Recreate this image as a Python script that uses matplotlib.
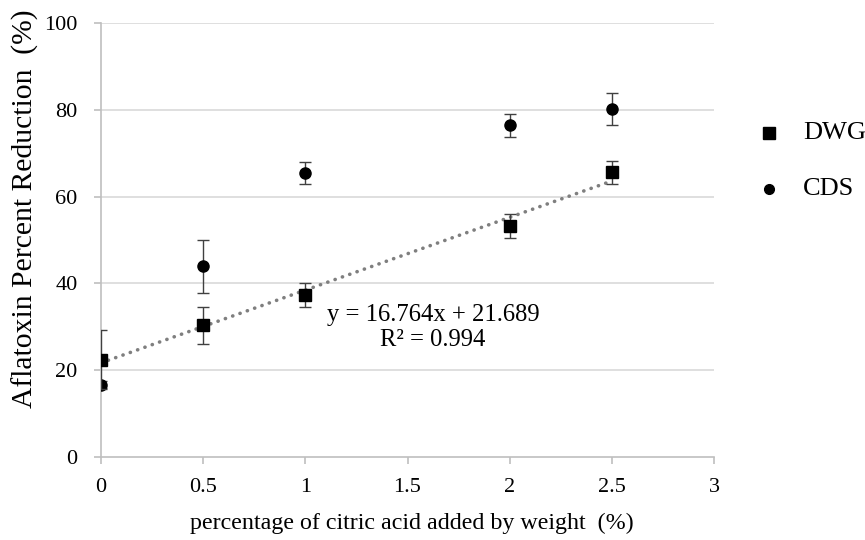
import matplotlib
matplotlib.use("Agg")
import matplotlib.pyplot as plt
from matplotlib.lines import Line2D

plt.rcParams['font.family'] = ['Liberation Serif', 'DejaVu Serif']

# Citric acid added (% by weight)
x_vals = [0, 0.5, 1, 2, 2.5]

# DWG: aflatoxin reduction (%) and error
dwg_mean = [22.4, 30.3, 37.4, 53.3, 65.6]
dwg_err = [6.8, 4.2, 2.8, 2.8, 2.7]

# CDS: aflatoxin reduction (%) and error
cds_mean = [16.6, 43.9, 65.4, 76.4, 80.1]
cds_err = [0.8, 6.2, 2.5, 2.6, 3.7]

# Linear trend for DWG
slope = 16.764
intercept = 21.689
r_squared = 0.994

series_names = ['DWG', 'CDS']
x_ticks = [0, 0.5, 1, 1.5, 2, 2.5, 3]
x_tick_labels = ['0', '0.5', '1', '1.5', '2', '2.5', '3']
y_ticks = [0, 20, 40, 60, 80, 100]

W, H = 865, 540
fig = plt.figure(figsize=(W / 100, H / 100), dpi=100)
ax = fig.add_axes([101 / W, 83 / H, 613 / W, 434 / H])

grid_c = '#d9d9d9'
axis_c = '#bfbfbf'
err_c = '#404040'

for yv in y_ticks[1:]:
    ax.axhline(yv, color=grid_c, lw=1.2, zorder=0)

# trend line
tx = [x_vals[0], x_vals[-1]]
ty = [slope * v + intercept for v in tx]
ax.plot(tx, ty, color='#7f7f7f', lw=2.6, linestyle=(0, (0.05, 2.1)),
        dash_capstyle='round', zorder=2)

ax.errorbar(x_vals, cds_mean, yerr=cds_err, fmt='o', color='black',
            markersize=8, ecolor=err_c, elinewidth=1, capsize=4.5,
            capthick=1, zorder=3)
ax.errorbar(x_vals, dwg_mean, yerr=dwg_err, fmt='s', color='black',
            markersize=8, ecolor=err_c, elinewidth=1, capsize=4.5,
            capthick=1, zorder=4)

ax.set_xlim(0, 3)
ax.set_ylim(0, 100)
ax.set_xticks(x_ticks)
ax.set_xticklabels(x_tick_labels)
ax.set_yticks(y_ticks)

for s in ['top', 'right']:
    ax.spines[s].set_visible(False)
for s in ['left', 'bottom']:
    ax.spines[s].set_color(axis_c)
    ax.spines[s].set_linewidth(1.2)

ax.tick_params(axis='both', direction='out', length=5, width=1.2,
               color=axis_c, labelsize=16, labelcolor='black')
ax.tick_params(axis='x', pad=10)
ax.tick_params(axis='y', pad=12)

ax.set_xlabel('percentage of citric acid added by weight  (%)', fontsize=17.3,
              va='center')
ax.set_ylabel('Aflatoxin Percent Reduction  (%)', fontsize=21.3, va='center')
ax.xaxis.set_label_coords(0.507, -0.154)
ax.yaxis.set_label_coords(-0.124, 0.573)

ax.text(1.625, 29.9, f'y = {slope}x + {intercept}\nR² = {r_squared}',
        ha='center', va='center', fontsize=17.7, linespacing=1.18)

# legend entries
legend_markers = ['s', 'o']
legend_sizes = [8, 7]
legend_y = [133, 189]
for name, mk, ms, py in zip(series_names, legend_markers, legend_sizes, legend_y):
    fig.add_artist(Line2D([769 / W], [1 - py / H], marker=mk, color='black',
                          markersize=ms, linestyle='none',
                          transform=fig.transFigure))
    fig.text(803 / W, 1 - py / H, name, ha='left', va='center', fontsize=19)

fig.savefig('out.png', dpi=100)
